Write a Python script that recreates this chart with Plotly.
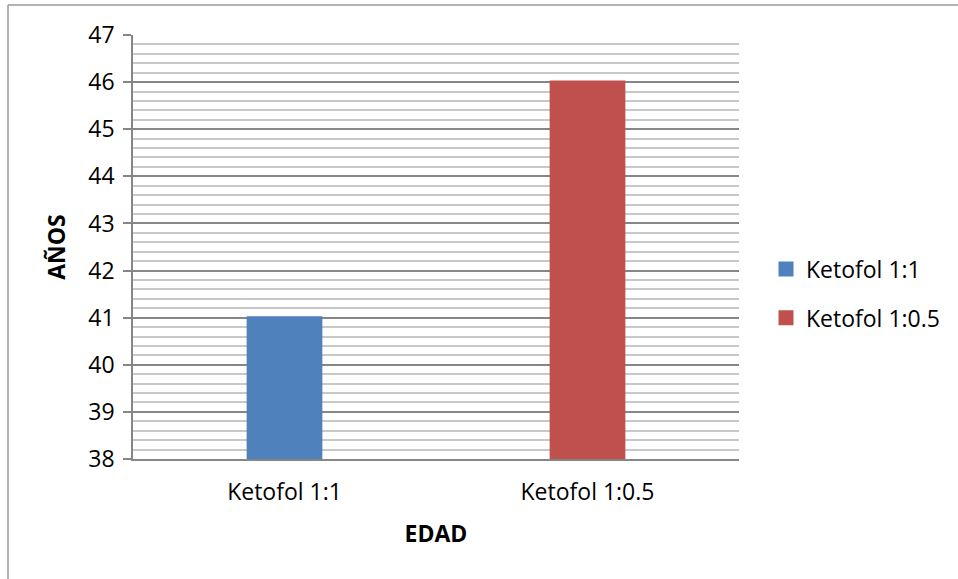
import plotly.graph_objects as go

categories = ["Ketofol 1:1", "Ketofol 1:0.5"]
series_names = ["Ketofol 1:1", "Ketofol 1:0.5"]
values = [41, 46]
colors = ["#4F81BD", "#C0504D"]
y_range = [38, 47]

FONT = "Open Sans"
FS = 23
GRID_MAJOR = "#868686"
GRID_MINOR = "#c8c8c8"

fig = go.Figure()
for i, (name, val, col) in enumerate(zip(series_names, values, colors)):
    fig.add_trace(go.Bar(
        x=[categories[i]], y=[val], name=name,
        marker=dict(color=col, line=dict(width=3, color=col)),
        width=0.24, legendgroup=name,
    ))

W, H = 958, 579
L, R, T, B = 133, 219, 35, 120
pw, ph = W - L - R, H - T - B

fig.update_layout(
    width=W, height=H,
    margin=dict(l=L, r=R, t=T, b=B, pad=0),
    paper_bgcolor="white", plot_bgcolor="white",
    font=dict(family=FONT, size=FS, color="#000000"),
    barmode="overlay",
    showlegend=True,
    legend=dict(
        x=(766 - L) / pw, y=(459 - 293.5) / ph, xanchor="left", yanchor="middle",
        font=dict(family=FONT, size=FS, color="#000000"),
        tracegroupgap=16, traceorder="grouped",
        bgcolor="rgba(0,0,0,0)",
    ),
    xaxis=dict(
        type="category", categoryorder="array", categoryarray=categories,
        showline=True, linecolor=GRID_MAJOR, linewidth=1.5,
        ticks="", showgrid=False,
        tickfont=dict(family=FONT, size=FS),
        ticklabelstandoff=12,
        title=dict(text="<b>EDAD</b>", font=dict(family=FONT, size=FS), standoff=20),
    ),
    yaxis=dict(
        range=y_range, dtick=1, tick0=38,
        showline=True, linecolor=GRID_MAJOR, linewidth=1.5,
        ticks="outside", ticklen=8, tickcolor=GRID_MAJOR, tickwidth=1.5,
        showgrid=True, gridcolor=GRID_MAJOR, gridwidth=1.5,
        minor=dict(dtick=0.2, showgrid=True, gridcolor=GRID_MINOR, gridwidth=1.5, ticks=""),
        tickfont=dict(family=FONT, size=FS),
        ticklabelstandoff=4,
        title=dict(text="<b>AÑOS</b>", font=dict(family=FONT, size=FS), standoff=16),
        zeroline=False,
    ),
)

# chart-area frame (partially visible: left and top edges)
x_left = (8 - L) / pw
y_top = (H - B - 5) / ph
fig.add_shape(type="line", xref="paper", yref="paper", x0=x_left, x1=2, y0=y_top, y1=y_top,
              line=dict(color="#9a9a9a", width=1.5))
fig.add_shape(type="line", xref="paper", yref="paper", x0=x_left, x1=x_left, y0=y_top, y1=-2,
              line=dict(color="#9a9a9a", width=1.5))

fig.write_html(
    "out.html",
    config={"displayModeBar": False},
    post_script="document.body.style.margin='0';document.body.style.overflow='hidden';",
)
